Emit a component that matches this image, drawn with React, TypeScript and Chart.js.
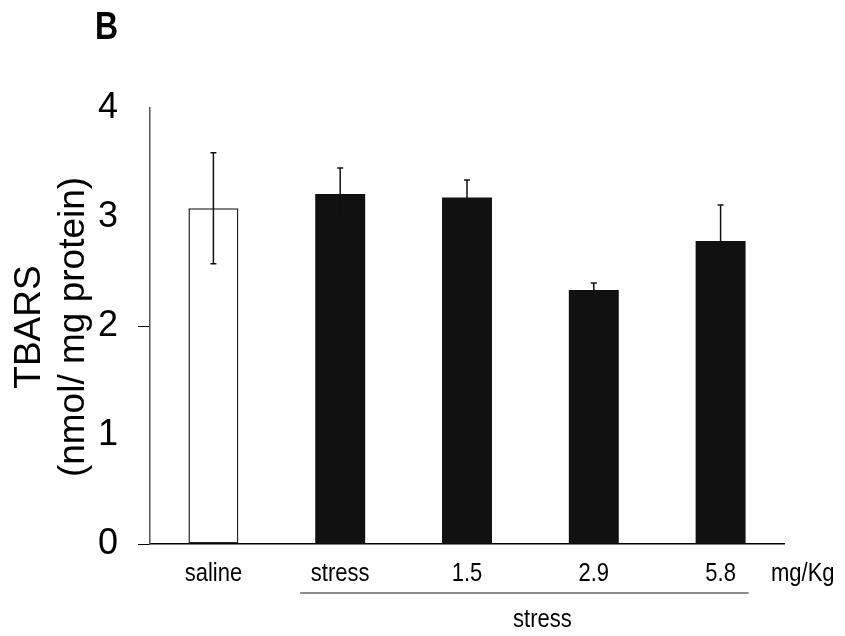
import React, { useEffect, useRef } from "react";
import { Chart, registerables } from "chart.js";

Chart.register(...registerables);

const categories = ["saline", "stress", "1.5", "2.9", "5.8"];
const means = [3.08, 3.21, 3.18, 2.33, 2.78];
const errors = [0.51, 0.24, 0.16, 0.065, 0.33];
const barColors = ["#ffffff", "#111111", "#111111", "#111111", "#111111"];
const yTickValues = [0, 1, 2, 3, 4];
const yTitleLines = ["TBARS", "(nmol/ mg protein)"];
const panelLabel = "B";
const unitLabel = "mg/Kg";
const groupLabel = "stress";

const FONT = "'Liberation Sans', Arial, Helvetica, sans-serif";

function drawText(
  ctx: CanvasRenderingContext2D,
  text: string,
  x: number,
  y: number,
  font: string,
  sy: number,
  align: CanvasTextAlign
) {
  ctx.save();
  ctx.translate(x, y);
  ctx.scale(1, sy);
  ctx.font = font;
  ctx.textAlign = align;
  ctx.textBaseline = "middle";
  ctx.fillStyle = "#000";
  ctx.fillText(text, 0, 0);
  ctx.restore();
}

const extrasPlugin = {
  id: "extras",
  afterDatasetsDraw(chart: any) {
    const ctx = chart.ctx;
    const meta = chart.getDatasetMeta(0);
    const y = chart.scales.y;
    ctx.save();
    ctx.strokeStyle = "#111";
    ctx.lineWidth = 1.5;
    meta.data.forEach((bar: any, i: number) => {
      const x = bar.x;
      const top = y.getPixelForValue(means[i] + errors[i]);
      const bot = y.getPixelForValue(means[i] - errors[i]);
      ctx.beginPath();
      ctx.moveTo(x, top);
      ctx.lineTo(x, bot);
      ctx.moveTo(x - 3, top);
      ctx.lineTo(x + 3, top);
      ctx.moveTo(x - 3, bot);
      ctx.lineTo(x + 3, bot);
      ctx.stroke();
    });
    ctx.restore();
  },
  afterDraw(chart: any) {
    const ctx = chart.ctx;
    const area = chart.chartArea;
    const meta = chart.getDatasetMeta(0);
    const xs = chart.scales.x;
    const ys = chart.scales.y;
    ctx.save();
    // panel label
    drawText(ctx, panelLabel, 95, 28, `bold 32px ${FONT}`, 1.2, "left");
    // y tick labels
    yTickValues.forEach((v) => {
      drawText(ctx, String(v), 118, ys.getPixelForValue(v), `36px ${FONT}`, 1.0, "right");
    });
    // x tick labels
    categories.forEach((c, i) => {
      drawText(ctx, c, xs.getPixelForTick(i), 574, `22px ${FONT}`, 1.15, "center");
    });
    // y title
    ctx.save();
    ctx.translate(0, (area.top + area.bottom) / 2 + 1);
    ctx.rotate(-Math.PI / 2);
    ctx.font = `37px ${FONT}`;
    ctx.textAlign = "center";
    ctx.textBaseline = "middle";
    ctx.fillStyle = "#000";
    ctx.fillText(yTitleLines[0], 0, 30);
    ctx.fillText(yTitleLines[1], 0, 74);
    ctx.restore();
    // unit label
    drawText(ctx, unitLabel, area.right - 13, 574, `22px ${FONT}`, 1.15, "left");
    // group underline
    const x1 = meta.data[1].x - 40;
    const x2 = meta.data[4].x + 28;
    ctx.strokeStyle = "#666";
    ctx.lineWidth = 1.5;
    ctx.beginPath();
    ctx.moveTo(x1, 593);
    ctx.lineTo(x2, 593);
    ctx.stroke();
    drawText(ctx, groupLabel, (meta.data[1].x + meta.data[4].x) / 2 + 12, 620, `22px ${FONT}`, 1.15, "center");
    ctx.restore();
  },
};

export default function App() {
  const ref = useRef<HTMLCanvasElement>(null);
  useEffect(() => {
    if (!ref.current) return;
    const chart = new Chart(ref.current, {
      type: "bar",
      data: {
        labels: categories,
        datasets: [
          {
            data: means,
            backgroundColor: barColors,
            borderColor: ["#222", "#111", "#111", "#111", "#111"],
            borderWidth: [1.5, 0, 0, 0, 0],
            borderSkipped: false,
            barPercentage: 0.394,
            categoryPercentage: 1,
          },
        ],
      },
      options: {
        responsive: false,
        animation: false,
        layout: { padding: { top: 108, right: 61, left: 0, bottom: 0 } },
        plugins: { legend: { display: false }, tooltip: { enabled: false } },
        scales: {
          x: {
            afterFit: (s: any) => {
              s.height = 92;
            },
            grid: { display: false, drawTicks: false },
            border: { display: true, color: "#000", width: 1.5 },
            ticks: { display: false },
          },
          y: {
            min: 0,
            max: 4,
            afterFit: (s: any) => {
              s.width = 150;
            },
            afterBuildTicks: (s: any) => {
              s.ticks = yTickValues.map((v) => ({ value: v }));
            },
            grid: {
              drawOnChartArea: false,
              drawTicks: true,
              tickLength: 12,
              color: (c: any) =>
                c.tick && (c.tick.value === 0 || c.tick.value === 2) ? "#000" : "rgba(0,0,0,0)",
            },
            border: { display: true, color: "#555", width: 1.5 },
            ticks: { display: false },
          },
        },
      },
      plugins: [extrasPlugin],
    });
    return () => chart.destroy();
  }, []);
  return (
    <canvas
      ref={ref}
      width={845}
      height={636}
      style={{ position: "absolute", left: 0, top: 0, width: 845, height: 636 }}
    />
  );
}
